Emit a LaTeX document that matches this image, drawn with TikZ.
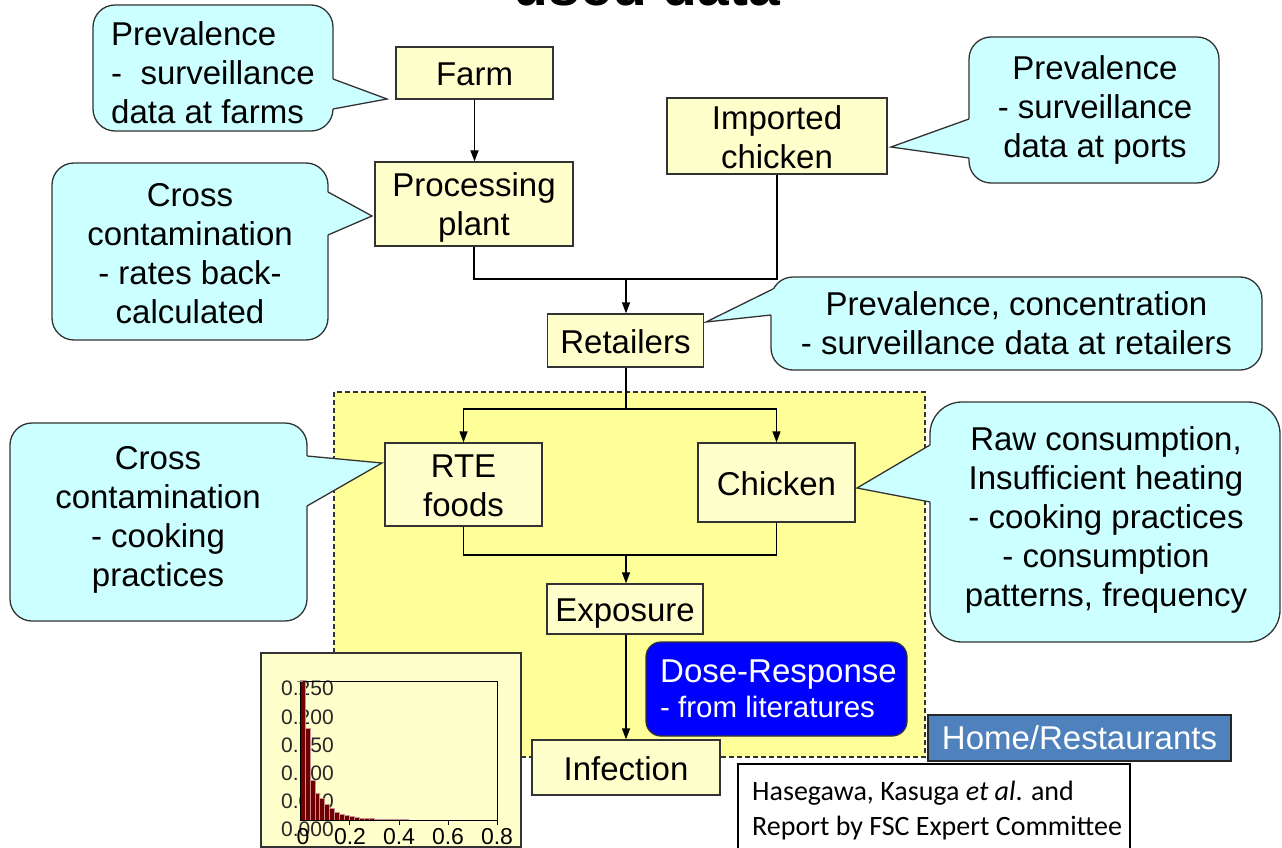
\documentclass[tikz,border=0pt]{standalone}
\usepackage{fontspec}
\setmainfont{Liberation Sans}
\newfontfamily\citefont{Carlito}
\usetikzlibrary{arrows.meta,calc}

\definecolor{boxfill}{HTML}{FFFFCC}
\definecolor{calfill}{HTML}{CCFFFF}
\definecolor{zonefill}{HTML}{FFFF99}
\definecolor{edgegray}{HTML}{333333}
\definecolor{dosefill}{HTML}{0000FF}
\definecolor{homefill}{HTML}{4F81BD}
\definecolor{barred}{HTML}{700000}
\definecolor{barline}{HTML}{C89090}

\newcommand\bigtxt{\fontsize{33}{39}\selectfont}
\newcommand\smalltxt{\fontsize{29.5}{35}\selectfont}
\newcommand\axistxt{\fontsize{21}{24}\selectfont}
% line struts so box labels sit on the same line box as the slide text
\newcommand\topstrut{\rule{0pt}{0.95em}}
\newcommand\botstrut{\rule[-0.17em]{0pt}{0.17em}}

\tikzset{
  txt/.style={font=\bigtxt, inner sep=0pt, text=black},
  stage/.style={draw=edgegray, fill=boxfill, line width=1.3pt, inner sep=0pt,
    align=center, font=\bigtxt},
  callout/.style={draw=edgegray, fill=calfill, line width=1.3pt,
    rounded corners=22pt, inner sep=0pt},
  tail/.style={draw=edgegray, line width=1.3pt, line join=miter},
  link/.style={draw=black, line width=1.3pt},
  arr/.style={link, -{Triangle[length=11pt,width=8pt]}},
  axlabel/.style={font=\axistxt, inner sep=0pt, text=black!85},
}

\begin{document}
\begin{tikzpicture}[x=1pt,y=-1pt]
\useasboundingbox (0,0) rectangle (1282,848);
\clip (0,0) rectangle (1282,848);
\fill[white] (0,0) rectangle (1282,848);

% heading, running off the top edge
\node[font=\fontsize{57}{60}\selectfont\bfseries, anchor=base, inner sep=0pt]
  (title) at (647,6) {used data};

% home / restaurant zone
\draw[fill=zonefill, draw=edgegray, line width=1.2pt, dash pattern=on 5pt off 3pt]
  (334,392) rectangle (925,757);

% ---- callouts ----
% farms
\node[callout, minimum width=240pt, minimum height=126pt] (cfarm) at (213,68) {};
\fill[calfill] (331,79) -- (333,79) -- (387,99) -- (333,109) -- (331,109) -- cycle;
\draw[tail] (333,79) -- (387,99) -- (333,109);
\node[txt, align=left, anchor=west] (tfarm) at (111,73)
  {Prevalence\\-\ \ surveillance\\data at farms};

% processing plant
\node[callout, minimum width=276pt, minimum height=177pt] (cproc) at (190,251.5) {};
\fill[calfill] (326,192) -- (328,192) -- (372,216) -- (328,235) -- (326,235) -- cycle;
\draw[tail] (328,192) -- (372,216) -- (328,235);
\node[txt, align=center] (tproc) at (190,253.5)
  {Cross\\contamination\\- rates back-\\calculated};

% ports
\node[callout, minimum width=250pt, minimum height=146pt] (cport) at (1094,110) {};
\fill[calfill] (971,119) -- (969,119) -- (891,147) -- (969,158) -- (971,158) -- cycle;
\draw[tail] (969,119) -- (891,147) -- (969,158);
\node[txt, align=center] (tport) at (1095,110)
  {Prevalence\\- surveillance\\data at ports};

% retailers
\node[callout, minimum width=491pt, minimum height=93pt] (cret) at (1016.5,323.5) {};
\fill[calfill] (775,289) -- (773,289) -- (706,322) -- (771,315) -- (773,315) -- cycle;
\draw[tail] (773,289) -- (706,322) -- (771,315);
\node[txt, align=center] (tret) at (1016.5,323)
  {Prevalence, concentration\\- surveillance data at retailers};

% ready-to-eat foods
\node[callout, minimum width=297pt, minimum height=198pt] (crte) at (158.5,522) {};
\fill[calfill] (305,456) -- (307,456) -- (382,463) -- (307,506) -- (305,506) -- cycle;
\draw[tail] (307,456) -- (382,463) -- (307,506);
\node[txt, align=center] (trte) at (158,519.5)
  {Cross\\contamination\\- cooking\\practices};

% chicken
\node[callout, rounded corners=32pt, minimum width=350pt, minimum height=240pt]
  (cchk) at (1105,522) {};
\fill[calfill] (932,445) -- (930,445) -- (857,488) -- (930,502) -- (932,502) -- cycle;
\draw[tail] (930,445) -- (857,488) -- (930,502);
\node[txt, align=center] (tchk) at (1106,519.5)
  {Raw consumption,\\Insufficient heating\\- cooking practices\\- consumption\\patterns, frequency};

% ---- process chain ----
\node[stage, minimum width=157pt, minimum height=52pt] (farm) at (474.5,73)
  {\topstrut Farm\botstrut};
\node[stage, minimum width=198pt, minimum height=84pt] (proc) at (474,204)
  {\topstrut Processing\\plant\botstrut};
\node[stage, minimum width=220pt, minimum height=74pt] (imp) at (777,136)
  {\topstrut Imported\\chicken\botstrut};
\node[stage, minimum width=156pt, minimum height=53pt] (ret) at (625.5,340.5)
  {\topstrut Retailers\botstrut};
\node[stage, minimum width=157pt, minimum height=83pt] (rte) at (463.5,484.5)
  {\topstrut RTE\\foods\botstrut};
\node[stage, minimum width=157pt, minimum height=79pt] (chk) at (776.5,482.5)
  {\topstrut Chicken\botstrut};
\node[stage, minimum width=156pt, minimum height=50pt] (exp) at (625,609)
  {\topstrut Exposure\botstrut};

\coordinate (j1) at (626,279);
\coordinate (j2) at (626,409);
\coordinate (j3) at (626,555);

\draw[arr] (farm.south) -- (farm.south |- proc.north);
\draw[link] (proc.south) |- (j1);
\draw[link] (imp.south) |- (j1);
\draw[arr] (j1) -- (j1 |- ret.north);
\draw[link] (ret.south -| j2) -- (j2);
\draw[arr] (j2) -| (rte.north);
\draw[arr] (j2) -| (chk.north);
\draw[link] (rte.south) |- (j3);
\draw[link] (chk.south) |- (j3);
\draw[arr] (j3) -- (j3 |- exp.north);

% dose-response model
\node[draw=edgegray, fill=dosefill, line width=1.3pt, rounded corners=15pt,
  minimum width=261pt, minimum height=94pt, inner sep=0pt] (dose) at (776.5,689) {};
\node[font=\bigtxt, text=white, anchor=base west, inner sep=0pt] (dose1) at (660,682) {Dose-Response};
\node[font=\smalltxt, text=white, anchor=base west, inner sep=0pt] (dose2) at (660,717) {- from literatures};

\node[stage, minimum width=188pt, minimum height=55pt] (inf) at (626,767.5)
  {\topstrut Infection\botstrut};
\draw[arr] (exp.south -| inf.north) -- (inf.north);

% ---- dose distribution histogram ----
\node[draw=edgegray, fill=boxfill, line width=1.3pt, minimum width=260pt,
  minimum height=194pt, inner sep=0pt] (hist) at (391,750) {};
\foreach \v/\yy [count=\k] in {0.250/688,0.200/717,0.150/745,0.100/773,0.050/801,0.000/829}
  \node[axlabel, anchor=west] (yl\k) at (281,\yy) {\v};
\foreach \h [count=\i from 0] in {140,92,40,27,22,16,12,8,5.7,4.3,3.3,2.3,1.7,1.5,1.3,1.2,1,1,1,0.8,0.8,0.6}
  \filldraw[fill=barred, draw=barline, line width=0.5pt]
    (300+\i*4.93,820) rectangle ++(4.93,-\h);
\draw[black, line width=1pt] (300,681) rectangle (497,820);
\foreach \xx in {349,399,448,497}
  \draw[black, line width=1pt] (\xx,820) -- (\xx,825);
\draw[gray, line width=1pt] (297,681) -- (303,681);
\foreach \v/\xx [count=\k] in {0/303,0.2/350,0.4/399,0.6/448,0.8/497}
  \node[font=\fontsize{23}{26}\selectfont, inner sep=0pt, anchor=base] (xl\k) at (\xx,844) {\v};

% setting and source
\node[draw=black!85, fill=homefill, line width=1.2pt, minimum width=303pt,
  minimum height=46pt, inner sep=0pt, font=\bigtxt, text=white] (home) at (1079.5,738) {Home/Restaurants};
\draw[fill=white, draw=black, line width=1.2pt] (738,764) rectangle (1130,860);
\node[font=\citefont\fontsize{28}{35}\selectfont, align=left, anchor=west, inner sep=0pt]
  (cite) at (752,810.5) {Hasegawa, Kasuga \textit{et al}. and\\Report by FSC Expert Committee};
\end{tikzpicture}
\end{document}
